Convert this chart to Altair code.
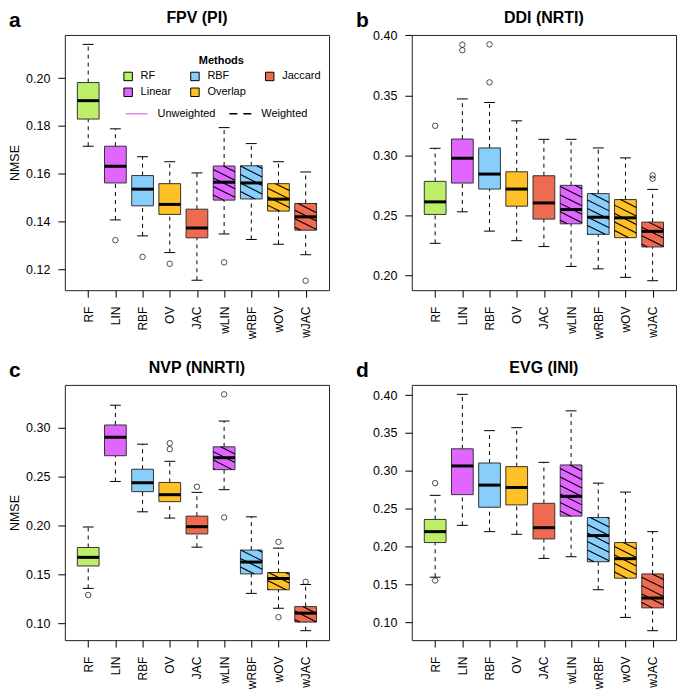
import json
import math
import altair as alt
import pandas as pd

# ---------------- data ----------------
METHODS = ["RF", "LIN", "RBF", "OV", "JAC", "wLIN", "wRBF", "wOV", "wJAC"]
FAMILY = ["RF", "Linear", "RBF", "Overlap", "Jaccard", "Linear", "RBF", "Overlap", "Jaccard"]
IS_WEIGHTED = [0, 0, 0, 0, 0, 1, 1, 1, 1]

LEGEND_ORDER = ["RF", "Linear", "RBF", "Overlap", "Jaccard"]
LEGEND_COLORS = ["#BCEE68", "#E066FF", "#87CEFA", "#FFC125", "#EE6A50"]
LINE_KINDS = ["Unweighted", "Weighted"]

TITLES = ["FPV (PI)", "DDI (NRTI)", "NVP (NNRTI)", "EVG (INI)"]
LETTERS = ["a", "b", "c", "d"]
YTICKS = [
    [0.12, 0.14, 0.16, 0.18, 0.20],
    [0.20, 0.25, 0.30, 0.35, 0.40],
    [0.10, 0.15, 0.20, 0.25, 0.30],
    [0.10, 0.15, 0.20, 0.25, 0.30, 0.35, 0.40],
]

# FPV (PI)
fpv_lower = [0.1715, 0.1406, 0.1339, 0.1269, 0.1153, 0.1347, 0.1324, 0.1304, 0.1260]
fpv_q1 = [0.1829, 0.1561, 0.1465, 0.1429, 0.1331, 0.1489, 0.1494, 0.1443, 0.1363]
fpv_med = [0.1906, 0.1631, 0.1535, 0.1471, 0.1372, 0.1564, 0.1561, 0.1493, 0.1419]
fpv_q3 = [0.1982, 0.1715, 0.1592, 0.1558, 0.1451, 0.1632, 0.1633, 0.1558, 0.1475]
fpv_upper = [0.2142, 0.1788, 0.1671, 0.1650, 0.1603, 0.1793, 0.1726, 0.1650, 0.1607]
fpv_out = [[], [0.1321], [0.1251], [0.1222], [], [0.1228], [], [], [0.1151]]

# DDI (NRTI)
ddi_lower = [0.2265, 0.2528, 0.2367, 0.2287, 0.2238, 0.2072, 0.2052, 0.1981, 0.1953]
ddi_q1 = [0.2506, 0.2768, 0.2718, 0.2575, 0.2467, 0.2428, 0.2340, 0.2312, 0.2235]
ddi_med = [0.2611, 0.2975, 0.2843, 0.2718, 0.2602, 0.2547, 0.2483, 0.2478, 0.2365]
ddi_q3 = [0.2782, 0.3135, 0.3061, 0.2862, 0.2829, 0.2749, 0.2680, 0.2630, 0.2442]
ddi_upper = [0.3058, 0.3470, 0.3440, 0.3287, 0.3133, 0.3133, 0.3061, 0.2978, 0.2715]
ddi_out = [[0.3246], [0.3923, 0.3876], [0.3925, 0.3608], [], [], [], [], [], [0.2832, 0.2804]]

# NVP (NNRTI)
nvp_lower = [0.1355, 0.2447, 0.2137, 0.2073, 0.1776, 0.2363, 0.1304, 0.1152, 0.0923]
nvp_q1 = [0.1584, 0.2710, 0.2343, 0.2241, 0.1911, 0.2568, 0.1503, 0.1341, 0.1011]
nvp_med = [0.1672, 0.2899, 0.2434, 0.2312, 0.1985, 0.2690, 0.1624, 0.1456, 0.1102]
nvp_q3 = [0.1773, 0.3024, 0.2572, 0.2437, 0.2093, 0.2801, 0.1746, 0.1517, 0.1169]
nvp_upper = [0.1982, 0.3226, 0.2828, 0.2653, 0.2336, 0.3064, 0.2086, 0.1766, 0.1395]
nvp_out = [[0.1287], [], [], [0.2838, 0.2777], [0.2393], [0.3337, 0.2080], [], [0.1830, 0.1061], [0.1422]]

# EVG (INI)
evg_lower = [0.1596, 0.2280, 0.2197, 0.2162, 0.1844, 0.1866, 0.1430, 0.1065, 0.0890]
evg_q1 = [0.2053, 0.2685, 0.2519, 0.2550, 0.2101, 0.2402, 0.1800, 0.1583, 0.1191]
evg_med = [0.2197, 0.3064, 0.2811, 0.2780, 0.2249, 0.2663, 0.2145, 0.1840, 0.1321]
evg_q3 = [0.2358, 0.3290, 0.3103, 0.3055, 0.2571, 0.3077, 0.2384, 0.2053, 0.1639]
evg_upper = [0.2676, 0.4009, 0.3530, 0.3569, 0.3112, 0.3791, 0.2837, 0.2719, 0.2197]
evg_out = [[0.2837, 0.1552], [], [], [], [], [], [], [], []]

PANELS = [
    (fpv_lower, fpv_q1, fpv_med, fpv_q3, fpv_upper, fpv_out),
    (ddi_lower, ddi_q1, ddi_med, ddi_q3, ddi_upper, ddi_out),
    (nvp_lower, nvp_q1, nvp_med, nvp_q3, nvp_upper, nvp_out),
    (evg_lower, evg_q1, evg_med, evg_q3, evg_upper, evg_out),
]

# ---------------- layout / style ----------------
W, H = 265, 256
XDOM = [0.14, 9.86]
BOXW = 0.8
CAPW = 0.4
FONT = "Liberation Sans"


def hatch(q1, q3, ydom, spacing=8.5, slope=0.5):
    sx = W / (XDOM[1] - XDOM[0])
    sy = H / (ydom[1] - ydom[0])
    rows = []
    for i, w in enumerate(IS_WEIGHTED):
        if not w:
            continue
        xc = i + 1
        X0 = (xc - BOXW / 2 - XDOM[0]) * sx
        X1 = (xc + BOXW / 2 - XDOM[0]) * sx
        Y0 = (q1[i] - ydom[0]) * sy
        Y1 = (q3[i] - ydom[0]) * sy
        cmin = Y0 + slope * X0
        cmax = Y1 + slope * X1
        k = math.floor(cmin / spacing) + 1
        while k * spacing < cmax:
            c = k * spacing
            xa = max(X0, (c - Y1) / slope)
            xb = min(X1, (c - Y0) / slope)
            if xb - xa > 0.8:
                rows.append(dict(
                    hx=xa / sx + XDOM[0], hx2=xb / sx + XDOM[0],
                    hy=(c - slope * xa) / sy + ydom[0], hy2=(c - slope * xb) / sy + ydom[0]))
            k += 1
    return pd.DataFrame(rows)


def panel(k):
    lower, q1, med, q3, upper, outl = PANELS[k]
    allv = lower + upper + [v for o in outl for v in o]
    lo, hi = min(allv), max(allv)
    ext = 0.04 * (hi - lo)
    ydom = [lo - ext, hi + ext]
    pos = list(range(1, 10))

    xs = alt.Scale(domain=XDOM, nice=False, zero=False)
    ys = alt.Scale(domain=ydom, nice=False, zero=False)

    xaxis = alt.Axis(values=pos, labelExpr=json.dumps(METHODS) + "[datum.value - 1]",
                     labelAngle=270, title=None, tickSize=7, labelPadding=9,
                     grid=False, domain=False, labelFontSize=12)
    ykw = dict(values=YTICKS[k], format=".2f", tickSize=7, labelPadding=8,
               grid=False, domain=False, labelFontSize=12.5)
    if k in (0, 2):
        ykw.update(title="NMSE", titlePadding=4, titleFontSize=12.5)
    else:
        ykw.update(title=None)
    yaxis = alt.Axis(**ykw)

    def X(f):
        return alt.X(f, scale=xs, axis=xaxis)

    def Y(f):
        return alt.Y(f, scale=ys, axis=yaxis)

    whisk = pd.DataFrame({
        "pos": pos + pos,
        "ya": q3 + lower,
        "yb": upper + q1,
    })
    caps = pd.DataFrame({
        "c0": [p - CAPW / 2 for p in pos] * 2,
        "c1": [p + CAPW / 2 for p in pos] * 2,
        "v": upper + lower,
    })
    boxes = pd.DataFrame({
        "b0": [p - BOXW / 2 for p in pos],
        "b1": [p + BOXW / 2 for p in pos],
        "q1": q1, "q3": q3, "med": med,
        "family": FAMILY,
    })
    outs = pd.DataFrame({
        "pos": [p for p, o in zip(pos, outl) for _ in o],
        "v": [v for o in outl for v in o],
    })
    hat = hatch(q1, q3, ydom)

    fill_kw = dict(scale=alt.Scale(domain=LEGEND_ORDER, range=LEGEND_COLORS))
    if k == 0:
        fill_kw["legend"] = alt.Legend(
            title="Methods", orient="none", legendX=58, legendY=20, columns=3,
            symbolType="square", symbolSize=72, symbolStrokeColor="black",
            symbolStrokeWidth=1, labelFontSize=11, labelOffset=7, columnPadding=17,
            rowPadding=3, titleFontSize=11, titleFontWeight="bold",
            titleAnchor="middle", titlePadding=5, padding=0)
    else:
        fill_kw["legend"] = None

    l_whisk = alt.Chart(whisk).mark_rule(color="black", strokeWidth=1, strokeDash=[4, 4]).encode(
        x=X("pos:Q"), y=Y("ya:Q"), y2="yb:Q",
    )
    l_caps = alt.Chart(caps).mark_rule(color="black", strokeWidth=1).encode(
        x=X("c0:Q"), x2="c1:Q", y=Y("v:Q"),
    )
    l_box = alt.Chart(boxes).mark_rect(stroke="#333333", strokeWidth=1).encode(
        x=X("b0:Q"), x2="b1:Q", y=Y("q1:Q"), y2="q3:Q",
        fill=alt.Fill("family:N", **fill_kw),
    )
    l_hat = alt.Chart(hat).mark_rule(color="black", strokeWidth=1.1).encode(
        x=X("hx:Q"), x2="hx2:Q", y=Y("hy:Q"), y2="hy2:Q",
    )
    l_med = alt.Chart(boxes).mark_rule(color="black", strokeWidth=3).encode(
        x=X("b0:Q"), x2="b1:Q", y=Y("med:Q"),
    )
    l_out = alt.Chart(outs).mark_point(shape="circle", filled=False, size=30,
                                       color="black", strokeWidth=1).encode(
        x=X("pos:Q"), y=Y("v:Q"),
    )
    heads = pd.DataFrame({"letter": [LETTERS[k]], "title": [TITLES[k]]})
    l_letter = alt.Chart(heads).mark_text(
        align="left", baseline="alphabetic", fontSize=21, fontWeight="bold",
        font=FONT, color="black").encode(
        text="letter:N", x=alt.value(-56), y=alt.value(-8))
    l_title = alt.Chart(heads).mark_text(
        align="center", baseline="alphabetic", fontSize=16, fontWeight="bold",
        font=FONT, color="black").encode(
        text="title:N", x=alt.value(W / 2), y=alt.value(-12))

    layers = [l_whisk, l_caps, l_box, l_hat, l_med, l_out, l_letter, l_title]

    if k == 0:
        leg2 = alt.Legend(title=None, orient="none", legendX=60, legendY=67,
                          direction="horizontal", symbolType="stroke", symbolSize=484,
                          symbolStrokeWidth=1.5, labelFontSize=11, labelOffset=9,
                          columnPadding=10, padding=0)
        l_dummy = alt.Chart(pd.DataFrame({"w": LINE_KINDS})).mark_rule(strokeWidth=1.5).encode(
            x=alt.value(0), x2=alt.value(0), y=alt.value(0), y2=alt.value(0),
            stroke=alt.Stroke("w:N", scale=alt.Scale(domain=LINE_KINDS, range=["#EE82EE", "black"]), legend=leg2),
            strokeDash=alt.StrokeDash("w:N", scale=alt.Scale(domain=LINE_KINDS, range=[[1, 0], [8, 6]]), legend=leg2),
        )
        layers.append(l_dummy)

    return alt.layer(*layers).properties(width=W, height=H)


chart = alt.concat(
    panel(0), panel(1), panel(2), panel(3),
    columns=2, spacing={"row": 95, "column": 83}, bounds="flush",
).resolve_scale(
    fill="independent", stroke="independent", strokeDash="independent",
    x="independent", y="independent",
).resolve_legend(
    fill="independent", stroke="independent", strokeDash="independent",
).properties(padding=0).configure_view(
    stroke="#222222", strokeWidth=1
).configure_axis(
    labelFont=FONT, titleFont=FONT, labelColor="black", titleColor="black",
    tickColor="black", tickWidth=1, titleFontWeight="normal",
).configure_legend(
    labelFont=FONT, titleFont=FONT, labelColor="black", titleColor="black",
)

chart.save("out.html", embed_options={"renderer": "svg", "actions": False})
